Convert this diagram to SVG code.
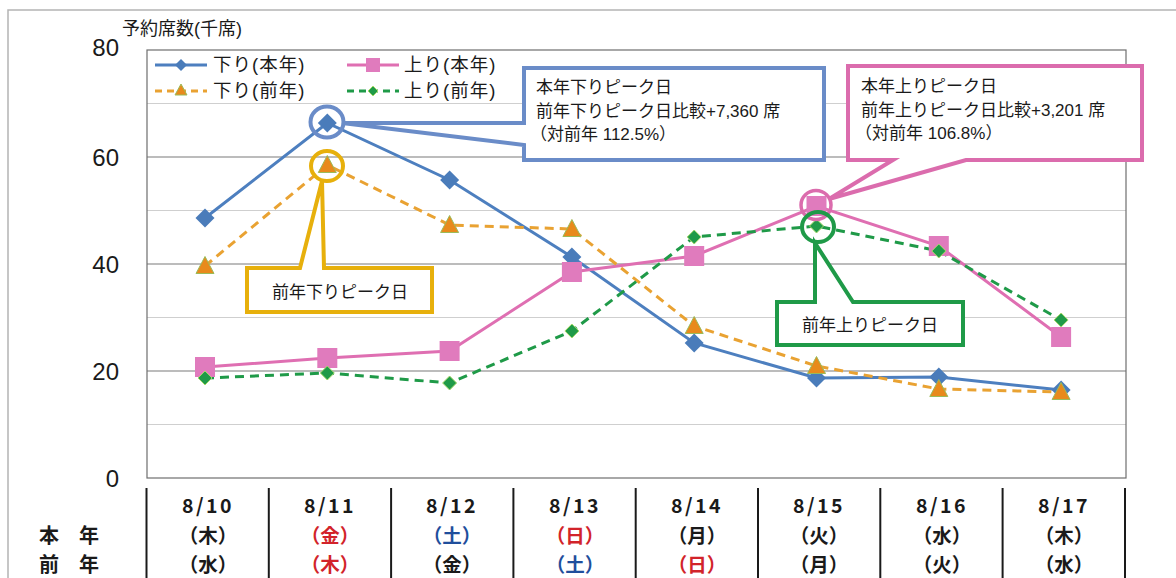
<svg xmlns="http://www.w3.org/2000/svg" width="1176" height="578" viewBox="0 0 1176 578">
<style>
text{font-family:"Liberation Sans","Noto Sans CJK JP",sans-serif;fill:#1a1a1a}
.ax{font-size:24px;text-anchor:end}
.lg{font-size:18.5px;letter-spacing:1px}
.co{font-size:17px}
.tb{font-family:"Noto Sans CJK JP",sans-serif;font-weight:bold;font-size:19.5px;text-anchor:middle}
.dt{letter-spacing:2.5px}
.red{fill:#d2232a}
.blu{fill:#1f4e9c}
.gmaj{stroke:#7a7a7a;stroke-width:1.2}
.gmin{stroke:#cfcfcf;stroke-width:1}
.sep{stroke:#1a1a1a;stroke-width:2}
.sBlue{fill:none;stroke:#4d7fbf;stroke-width:3}
.sPink{fill:none;stroke:#df6fb2;stroke-width:3}
.sOra{fill:none;stroke:#e9a232;stroke-width:3;stroke-dasharray:9 6}
.sGrn{fill:none;stroke:#1f9a48;stroke-width:3;stroke-dasharray:9 6}
.mBlue{fill:#4a7cba}
.mPink{fill:#e07bbd}
.mOra{fill:#e88a1c;stroke:#9bbb59;stroke-width:1}
.mGrn{fill:#1f9a48;stroke:#a6d96a;stroke-width:1}
.cB{fill:#fff;stroke:#6a8cc8;stroke-width:4;stroke-linejoin:miter}
.cP{fill:#fff;stroke:#db6cad;stroke-width:4}
.cO{fill:#fff;stroke:#e7b00c;stroke-width:4}
.cG{fill:#fff;stroke:#1f9a48;stroke-width:4}
</style>
<defs>
<path id="dia" d="M0,-9.5 L9.5,0 L0,9.5 L-9.5,0 Z"/>
<rect id="sq" x="-10" y="-10" width="20" height="20"/>
<path id="tri" d="M0,-9.5 L9,7.5 L-9,7.5 Z"/>
<path id="sdia" d="M0,-7 L7,0 L0,7 L-7,0 Z"/>
</defs>
<rect width="1176" height="578" fill="#fff"/>
<path d="M8,578 V10 H1176" fill="none" stroke="#b4b4b4" stroke-width="1.5"/>

<g id="axis">
<text x="122" y="35" style="font-size:18px">予約席数(千席)</text>
<line class="gmin" x1="147" y1="103.5" x2="1126" y2="103.5"/>
<line class="gmin" x1="147" y1="210.5" x2="1126" y2="210.5"/>
<line class="gmin" x1="147" y1="317.5" x2="1126" y2="317.5"/>
<line class="gmin" x1="147" y1="424.5" x2="1126" y2="424.5"/>
<line class="gmaj" x1="147" y1="157" x2="1126" y2="157"/>
<line class="gmaj" x1="147" y1="264" x2="1126" y2="264"/>
<line class="gmaj" x1="147" y1="371" x2="1126" y2="371"/>
<rect x="147" y="50" width="979" height="428" fill="none" stroke="#6e6e6e" stroke-width="1.2"/>
<text class="ax" x="119" y="56">80</text>
<text class="ax" x="119" y="166">60</text>
<text class="ax" x="119" y="273">40</text>
<text class="ax" x="119" y="380">20</text>
<text class="ax" x="119" y="487">0</text>
</g>

<g id="legend">
<line class="sBlue" x1="155" y1="65" x2="207" y2="65"/>
<path class="mBlue" d="M181,59 L187,65 L181,71 L175,65 Z"/>
<text class="lg" x="213" y="71">下り(本年)</text>
<line class="sPink" x1="347" y1="65" x2="399" y2="65"/>
<rect class="mPink" x="366" y="58" width="14" height="14"/>
<text class="lg" x="404" y="71">上り(本年)</text>
<line class="sOra" x1="155" y1="91" x2="207" y2="91" style="stroke-dasharray:7 5"/>
<path class="mOra" d="M181,84 L187,95 L175,95 Z"/>
<text class="lg" x="213" y="97">下り(前年)</text>
<line class="sGrn" x1="347" y1="91" x2="399" y2="91" style="stroke-dasharray:7 5"/>
<path class="mGrn" d="M373,86 L378,91 L373,96 L368,91 Z"/>
<text class="lg" x="404" y="97">上り(前年)</text>
</g>

<g id="connectors">
<polyline class="sBlue" points="205,218 327.3,123 449.6,180 571.9,257 694.2,343 816.5,378 938.8,377 1061.1,390"/>
<polyline class="sPink" points="205,367 327.3,358 449.6,351 571.9,272 694.2,256 816.5,206 938.8,246 1061.1,337"/>
<polyline class="sOra" points="205,266 327.3,165 449.6,225 571.9,229 694.2,326 816.5,366 938.8,389 1061.1,392"/>
<polyline class="sGrn" points="205,378 327.3,373 449.6,383 571.9,331 694.2,237 816.5,226 938.8,251 1061.1,320"/>
</g>

<g id="markers-kudari-honnen" class="mBlue">
<use href="#dia" x="205" y="218"/><use href="#dia" x="327.3" y="123"/><use href="#dia" x="449.6" y="180"/><use href="#dia" x="571.9" y="257"/>
<use href="#dia" x="694.2" y="343"/><use href="#dia" x="816.5" y="378"/><use href="#dia" x="938.8" y="377"/><use href="#dia" x="1061.1" y="390"/>
</g>
<g id="markers-nobori-honnen" class="mPink">
<use href="#sq" x="205" y="367"/><use href="#sq" x="327.3" y="358"/><use href="#sq" x="449.6" y="351"/><use href="#sq" x="571.9" y="272"/>
<use href="#sq" x="694.2" y="256"/><use href="#sq" x="816.5" y="206"/><use href="#sq" x="938.8" y="246"/><use href="#sq" x="1061.1" y="337"/>
</g>
<g id="markers-kudari-zennen" class="mOra">
<use href="#tri" x="205" y="266"/><use href="#tri" x="327.3" y="165"/><use href="#tri" x="449.6" y="225"/><use href="#tri" x="571.9" y="229"/>
<use href="#tri" x="694.2" y="326"/><use href="#tri" x="816.5" y="366"/><use href="#tri" x="938.8" y="389"/><use href="#tri" x="1061.1" y="392"/>
</g>
<g id="markers-nobori-zennen" class="mGrn">
<use href="#sdia" x="205" y="378"/><use href="#sdia" x="327.3" y="373"/><use href="#sdia" x="449.6" y="383"/><use href="#sdia" x="571.9" y="331"/>
<use href="#sdia" x="694.2" y="237"/><use href="#sdia" x="816.5" y="226"/><use href="#sdia" x="938.8" y="251"/><use href="#sdia" x="1061.1" y="320"/>
</g>

<g id="callout-kudari-honnen">
<ellipse cx="327" cy="122" rx="16.5" ry="15.5" fill="none" stroke="#6a8cc8" stroke-width="4"/>
<path class="cB" d="M524,68 H824 V160 H524 V145 L342,123 L524,123 Z"/>
<text class="co" x="536" y="93">本年下りピーク日</text>
<text class="co" x="536" y="117">前年下りピーク日比較+7,360 席</text>
<text class="co" x="530" y="140">（対前年 112.5%）</text>
</g>

<g id="callout-nobori-honnen">
<ellipse cx="816" cy="205" rx="15" ry="14.5" fill="none" stroke="#db6cad" stroke-width="3.5"/>
<path class="cP" d="M848,66 H1142 V160 H966 L829,199 L893,160 H848 Z"/>
<text class="co" x="861" y="92">本年上りピーク日</text>
<text class="co" x="861" y="116">前年上りピーク日比較+3,201 席</text>
<text class="co" x="855" y="139">（対前年 106.8%）</text>
</g>

<g id="callout-kudari-zennen">
<ellipse cx="327" cy="166" rx="16" ry="15" fill="none" stroke="#e7b00c" stroke-width="4"/>
<path class="cO" d="M247,268 H300 L322,181 L324,268 H432 V312 H247 Z"/>
<text class="co" x="340" y="298" text-anchor="middle">前年下りピーク日</text>
</g>

<g id="callout-nobori-zennen">
<ellipse cx="818" cy="227" rx="16" ry="15" fill="none" stroke="#1f9a48" stroke-width="4"/>
<path class="cG" d="M777,302 H815 V243 L853,302 H963 V345 H777 Z"/>
<text class="co" x="870" y="331" text-anchor="middle">前年上りピーク日</text>
</g>

<g id="table">
<line class="sep" x1="146.5" y1="488" x2="146.5" y2="578"/>
<line class="sep" x1="268.8" y1="488" x2="268.8" y2="578"/>
<line class="sep" x1="391.1" y1="488" x2="391.1" y2="578"/>
<line class="sep" x1="513.4" y1="488" x2="513.4" y2="578"/>
<line class="sep" x1="635.7" y1="488" x2="635.7" y2="578"/>
<line class="sep" x1="758" y1="488" x2="758" y2="578"/>
<line class="sep" x1="880.3" y1="488" x2="880.3" y2="578"/>
<line class="sep" x1="1002.6" y1="488" x2="1002.6" y2="578"/>
<line class="sep" x1="1125" y1="488" x2="1125" y2="578"/>
<text class="tb" x="69" y="543" style="text-anchor:middle;font-size:20px">本　年</text>
<text class="tb" x="69" y="572" style="text-anchor:middle;font-size:20px">前　年</text>
<g class="dt">
<text class="tb" x="208" y="513">8/10</text>
<text class="tb" x="330" y="513">8/11</text>
<text class="tb" x="452" y="513">8/12</text>
<text class="tb" x="575" y="513">8/13</text>
<text class="tb" x="697" y="513">8/14</text>
<text class="tb" x="819" y="513">8/15</text>
<text class="tb" x="942" y="513">8/16</text>
<text class="tb" x="1064" y="513">8/17</text>
</g>
<text class="tb" x="208" y="543">（木）</text>
<text class="tb red" x="330" y="543">（金）</text>
<text class="tb blu" x="452" y="543">（土）</text>
<text class="tb red" x="575" y="543">（日）</text>
<text class="tb" x="697" y="543">（月）</text>
<text class="tb" x="819" y="543">（火）</text>
<text class="tb" x="942" y="543">（水）</text>
<text class="tb" x="1064" y="543">（木）</text>
<text class="tb" x="208" y="572">（水）</text>
<text class="tb red" x="330" y="572">（木）</text>
<text class="tb" x="452" y="572">（金）</text>
<text class="tb blu" x="575" y="572">（土）</text>
<text class="tb red" x="697" y="572">（日）</text>
<text class="tb" x="819" y="572">（月）</text>
<text class="tb" x="942" y="572">（火）</text>
<text class="tb" x="1064" y="572">（水）</text>
</g>
</svg>
